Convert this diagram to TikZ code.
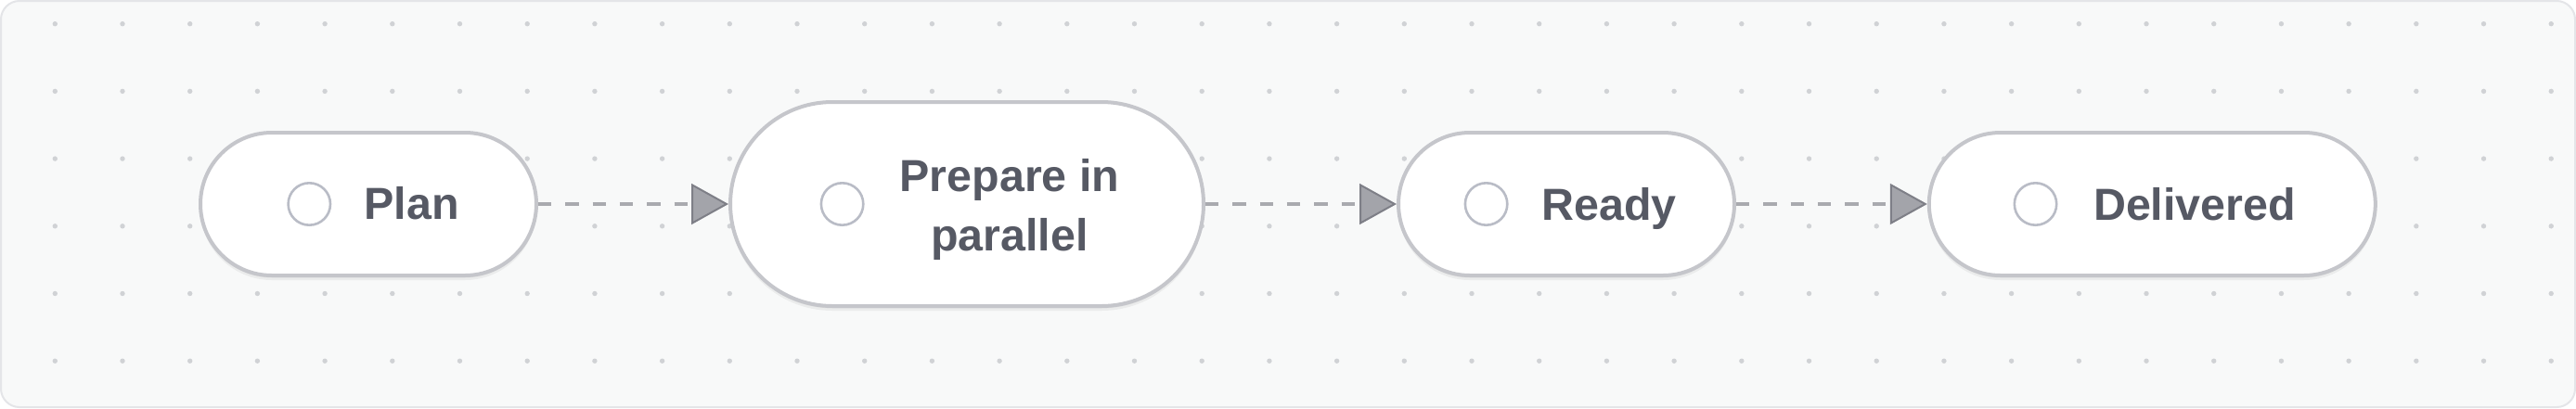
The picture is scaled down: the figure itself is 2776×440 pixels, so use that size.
\documentclass[tikz,border=0pt]{standalone}
\usepackage{fontspec}
\setmainfont{Liberation Sans}
\usetikzlibrary{arrows.meta,shapes.misc,shadows}
\definecolor{bgfill}{HTML}{F8F9F9}
\definecolor{bgline}{HTML}{E4E5E8}
\definecolor{dotc}{HTML}{D0D2D5}
\definecolor{pillline}{HTML}{C5C6CB}
\definecolor{ringc}{HTML}{B9BCC6}
\definecolor{textc}{HTML}{565964}
\definecolor{dashc}{HTML}{A9AAAF}
\definecolor{tipfill}{HTML}{A3A4AA}
\definecolor{tipdraw}{HTML}{7E7F87}
\tikzset{
  pill/.style={rounded rectangle, draw=pillline, line width=2pt, fill=white,
    minimum height=77pt, inner sep=0pt,
    drop shadow={shadow xshift=0pt, shadow yshift=-2.5pt, opacity=0.05, fill=black},
    drop shadow={shadow xshift=0pt, shadow yshift=-1.2pt, opacity=0.05, fill=black}},
  ring/.style={circle, draw=ringc, line width=1.3pt, minimum size=22.7pt, inner sep=0pt},
  label/.style={text=textc, font=\fontsize{24.2}{31.65}\selectfont\bfseries, inner sep=0pt, anchor=base, align=center},
  conn/.style={draw=dashc, line width=1.75pt, dash pattern=on 7.15pt off 7.5pt,
    -{Triangle[length=20pt,width=22pt,line width=1pt,color=tipdraw,fill=tipfill]}}
}
\begin{document}
\begin{tikzpicture}[x=0.5pt,y=-0.5pt]
\useasboundingbox (0,0) rectangle (2776,440);
\fill[white] (0,0) rectangle (2776,440);
\draw[bgline, line width=1pt, fill=bgfill, rounded corners=10pt] (1,1) rectangle (2775,439);
\foreach \i in {0,...,37}{
  \foreach \j in {0,...,5}{
    \fill[dotc] ({59.3+72.7*\i},{25.7+72.7*\j}) circle[radius=1.35pt];
  }
}
% pills
\node[pill, minimum width=181pt] (plan) at (397,220) {};
\node[pill, minimum width=255pt, minimum height=110pt] (prep) at (1042,220) {};
\node[pill, minimum width=181pt] (ready) at (1688,220) {};
\node[pill, minimum width=240.5pt] (deliv) at (2319.3,220) {};
% rings
\node[ring] (planR) at (333.3,220) {};
\node[ring] (prepR) at (907.6,220) {};
\node[ring] (readyR) at (1601.6,220) {};
\node[ring] (delivR) at (2193.5,220) {};
% labels
\node[label] (planT) at (443.5,236.7) {Plan};
\node[label] (prepT) at (1088,270) {Prepare in\\parallel};
\node[label] (readyT) at (1734,237) {Ready};
\node[label] (delivT) at (2365,237) {Delivered};
% connectors
\draw[conn] (plan.east) -- (prep.west);
\draw[conn] (prep.east) -- (ready.west);
\draw[conn] (ready.east) -- (deliv.west);
\end{tikzpicture}
\end{document}
